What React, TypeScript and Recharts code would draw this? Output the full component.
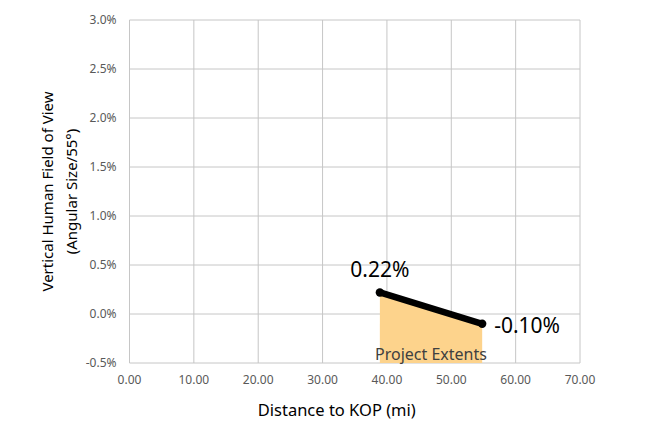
import React from "react"
import {
  ComposedChart,
  Area,
  Line,
  XAxis,
  YAxis,
  CartesianGrid,
  LabelList,
  ReferenceDot,
} from "recharts"

// distance to KOP (mi) and vertical field of view (%)
const distances = [38.9, 54.8]
const fieldOfView = [0.22, -0.1]
const pointLabels = ["0.22%", "-0.10%"]
const xTicks = [0, 10, 20, 30, 40, 50, 60, 70]
const yTicks = [-0.5, 0, 0.5, 1, 1.5, 2, 2.5, 3]
const extentsLabel = "Project Extents"

const data = distances.map((d, i) => ({ x: d, y: fieldOfView[i], label: pointLabels[i] }))

const FONT = "'Noto Sans', 'Open Sans', sans-serif"

const renderPointLabel = (props: any) => {
  const { x, y, index, value } = props
  if (index === 0) {
    return (
      <text x={x} y={y - 15} textAnchor="middle" fontSize={21} fontFamily={FONT} fill="#000">
        {value}
      </text>
    )
  }
  return (
    <text x={x + 12} y={y + 9} textAnchor="start" fontSize={21} fontFamily={FONT} fill="#000">
      {value}
    </text>
  )
}

const renderYTitle = (props: any) => {
  const { viewBox } = props
  const cy = viewBox.y + viewBox.height / 2
  return (
    <g fontFamily={FONT} fontSize={15} fill="#000" textAnchor="middle">
      <text x={0} y={0} transform={`translate(${53}, ${cy}) rotate(-90)`}>
        Vertical Human Field of View
      </text>
      <text x={0} y={0} transform={`translate(${77}, ${cy}) rotate(-90)`}>
        (Angular Size/55°)
      </text>
    </g>
  )
}

const renderXTitle = (props: any) => {
  const { viewBox } = props
  return (
    <text
      x={viewBox.x + viewBox.width / 2 - 18}
      y={viewBox.y + 53}
      textAnchor="middle"
      fontFamily={FONT}
      fontSize={16.5}
      fill="#000"
    >
      Distance to KOP (mi)
    </text>
  )
}

export default function App() {
  return (
    <div style={{ position: "absolute", left: 0, top: 0, width: 645, height: 421, background: "#fff" }}>
      <ComposedChart width={645} height={421} data={data} margin={{ top: 20, right: 65, left: 0, bottom: 0 }}>
        <CartesianGrid stroke="#c6c6c6" strokeWidth={1} />
        <XAxis
          type="number"
          dataKey="x"
          domain={[0, 70]}
          ticks={xTicks}
          tickFormatter={(v) => v.toFixed(2)}
          tick={{ fontSize: 12, fill: "#595959", fontFamily: FONT }}
          tickLine={false}
          axisLine={false}
          tickSize={0}
          tickMargin={12}
          height={58}
          label={{ content: renderXTitle }}
        />
        <YAxis
          type="number"
          domain={[-0.5, 3]}
          ticks={yTicks}
          tickFormatter={(v) => `${v.toFixed(1)}%`}
          tick={{ fontSize: 12, fill: "#595959", fontFamily: FONT }}
          tickLine={false}
          axisLine={false}
          tickSize={0}
          tickMargin={13}
          width={129.5}
          label={{ content: renderYTitle }}
        />
        <Area
          dataKey="y"
          type="linear"
          baseValue={-0.5}
          fill="#fdd38c"
          fillOpacity={1}
          stroke="none"
          isAnimationActive={false}
        />
        <Line
          dataKey="y"
          type="linear"
          stroke="#000"
          strokeWidth={6.5}
          dot={{ r: 4.2, fill: "#000", stroke: "none" }}
          isAnimationActive={false}
        >
          <LabelList dataKey="label" content={renderPointLabel} />
        </Line>
        <ReferenceDot
          x={(distances[0] + distances[1]) / 2}
          y={-0.5}
          r={0}
          fill="none"
          stroke="none"
          label={{ value: extentsLabel, position: "top", offset: 3, fontSize: 16, fill: "#404040", fontFamily: FONT }}
        />
      </ComposedChart>
    </div>
  )
}
